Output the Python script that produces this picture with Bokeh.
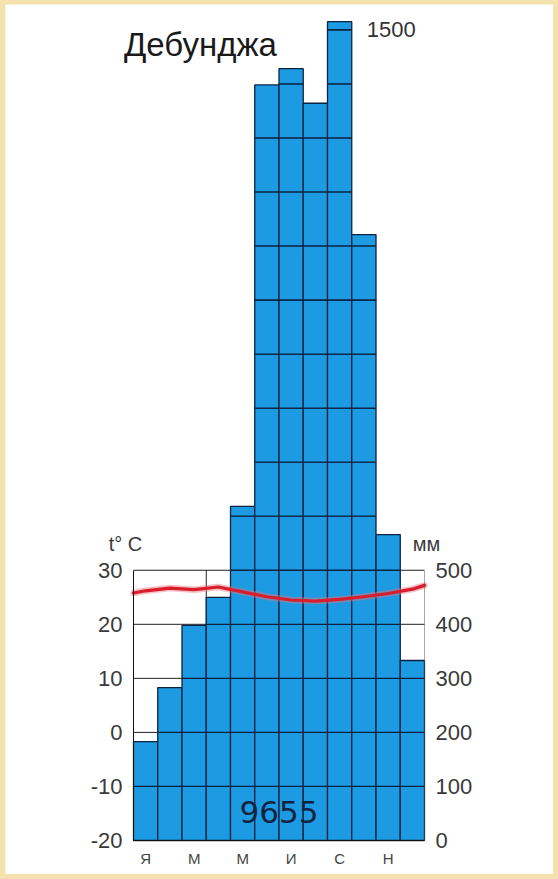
import math
from bokeh.plotting import figure
from bokeh.models import Range1d, LinearAxis, FixedTicker, Label
from bokeh.embed import file_html
from bokeh.resources import INLINE

# ---- data ----
station = "Дебунджа"
months = ["Я", "Ф", "М", "А", "М", "И", "И", "А", "С", "О", "Н", "Д"]
month_labels_shown = {0: "Я", 2: "М", 4: "М", 6: "И", 8: "С", 10: "Н"}
precip_mm = [183, 283, 398, 450, 618, 1398, 1428, 1364, 1515, 1121, 566, 333]
temp_c = [26.2, 26.7, 26.4, 26.9, 26.0, 25.1, 24.5, 24.3, 24.6, 25.1, 25.7, 26.5]
temp_start, temp_end = 25.8, 27.2   # line values at the left / right edges
annual_total = "9655"
top_mark = 1500
temp_ticks = [-20, -10, 0, 10, 20, 30]
temp_tick_labels = {-20: "-20", -10: "-10", 0: "0", 10: "10", 20: "20", 30: "30"}
mm_ticks = [0, 100, 200, 300, 400, 500]
cell_step = 100
quarter_lines = [3]

# ---- layout / styles ----
BLUE = "#1d9be2"
NAVY = "#0e2240"
RED = "#d81e2c"
FONT = "Liberation Sans"
W, H = 548, 870
PX_PER_MONTH = 24.25
PX_PER_MM = 0.5405
LEFT_PX, BOTTOM_PX = 128, 34          # frame origin (Jan start, 0 mm) inside canvas
x0 = -LEFT_PX / PX_PER_MONTH
x1 = x0 + W / PX_PER_MONTH
y0 = -BOTTOM_PX / PX_PER_MM
y1 = y0 + H / PX_PER_MM

p = figure(width=W, height=H, x_range=Range1d(x0, x1), y_range=Range1d(y0, y1),
           output_backend="svg", toolbar_location=None,
           x_axis_location=None, y_axis_location=None,
           min_border_left=0, min_border_right=0, min_border_top=0, min_border_bottom=0)
p.outline_line_color = None
p.background_fill_color = "white"
p.border_fill_color = "white"
p.grid.visible = False

p.extra_y_ranges = {"temp": Range1d(y0 / 10 + temp_ticks[0], y1 / 10 + temp_ticks[0])}

# grid lines inside the 0-500 mm frame
p.segment(x0=[0] * (len(mm_ticks) - 1), y0=mm_ticks[1:], x1=[12] * (len(mm_ticks) - 1),
          y1=mm_ticks[1:], line_color="#222222", line_width=1)
p.segment(x0=quarter_lines, y0=[mm_ticks[0]] * len(quarter_lines), x1=quarter_lines,
          y1=[mm_ticks[-1]] * len(quarter_lines), line_color="#222222", line_width=1)

# bars as stacked 100 mm cells
lefts, rights, bottoms, tops = [], [], [], []
for i, h in enumerate(precip_mm):
    n = math.ceil(h / cell_step)
    for k in range(n):
        lefts.append(i)
        rights.append(i + 1)
        bottoms.append(k * cell_step)
        tops.append(min((k + 1) * cell_step, h))
p.quad(left=lefts, right=rights, bottom=bottoms, top=tops,
       fill_color=BLUE, line_color=NAVY, line_width=1.3)

# temperature line
tx = [0] + [i + 0.5 for i in range(12)] + [12]
ty = [temp_start] + temp_c + [temp_end]
p.line(tx, ty, y_range_name="temp", line_color="#f07078", line_width=6.5, line_alpha=0.45,
       line_join="round", line_cap="round")
p.line(tx, ty, y_range_name="temp", line_color=RED, line_width=3.2,
       line_join="round", line_cap="round")

# axes
left_ax = LinearAxis(y_range_name="temp", ticker=FixedTicker(ticks=temp_ticks),
                     bounds=(temp_ticks[0], temp_ticks[-1]), fixed_location=0,
                     major_label_overrides=temp_tick_labels)
right_ax = LinearAxis(ticker=FixedTicker(ticks=mm_ticks), bounds=(mm_ticks[0], mm_ticks[-1]),
                      fixed_location=12)
for ax in (left_ax, right_ax):
    ax.major_tick_line_color = None
    ax.minor_tick_line_color = None
    ax.major_tick_out = 0
    ax.major_tick_in = 0
    ax.minor_tick_out = 0
    ax.major_label_standoff = 11
    ax.major_label_text_font = FONT
    ax.major_label_text_font_size = "22px"
    ax.major_label_text_color = "#3a3a3a"
left_ax.axis_line_color = "#111111"
right_ax.axis_line_color = "#555555"
right_ax.axis_line_dash = "1 1"
p.add_layout(left_ax, "left")
p.add_layout(right_ax, "right")

xa = LinearAxis(ticker=FixedTicker(ticks=[k + 0.5 for k in month_labels_shown]),
                major_label_overrides={k + 0.5: v for k, v in month_labels_shown.items()},
                bounds=(0, 12), fixed_location=0)
xa.major_tick_line_color = None
xa.minor_tick_line_color = None
xa.major_tick_out = 0
xa.major_tick_in = 0
xa.minor_tick_out = 0
xa.axis_line_color = "#111111"
xa.major_label_standoff = 9
xa.major_label_text_font = FONT
xa.major_label_text_font_size = "15px"
xa.major_label_text_color = "#444444"
p.add_layout(xa, "below")

# texts
p.add_layout(Label(x=2.76, y=1473, text=station, text_align="center", text_baseline="middle",
                   text_font=FONT, text_font_size="33px", text_color="#1a1a1a"))
p.add_layout(Label(x=9, y=top_mark, x_offset=15, text=str(top_mark), text_baseline="middle",
                   text_font=FONT, text_font_size="22px", text_color="#333333"))
p.add_layout(Label(x=6, y=52, text=annual_total, text_align="center", text_baseline="middle",
                   text_font="DejaVu Sans", text_font_size="31px", text_color="#13233f"))
p.add_layout(Label(x=0, y=549, x_offset=-8, text="t° C", text_align="center",
                   text_baseline="middle", text_font=FONT, text_font_size="20px",
                   text_color="#3a3a3a"))
p.add_layout(Label(x=12, y=549, x_offset=2, text="мм", text_align="center",
                   text_baseline="middle", text_font=FONT, text_font_size="20px",
                   text_color="#3a3a3a"))

html = file_html(p, INLINE)
html = html.replace("</head>",
                    "<style>html,body{background:#f3e2ad !important;}"
                    "body{padding:4px 5px 5px 5px !important;}</style></head>", 1)
open("out.html", "w").write(html)
